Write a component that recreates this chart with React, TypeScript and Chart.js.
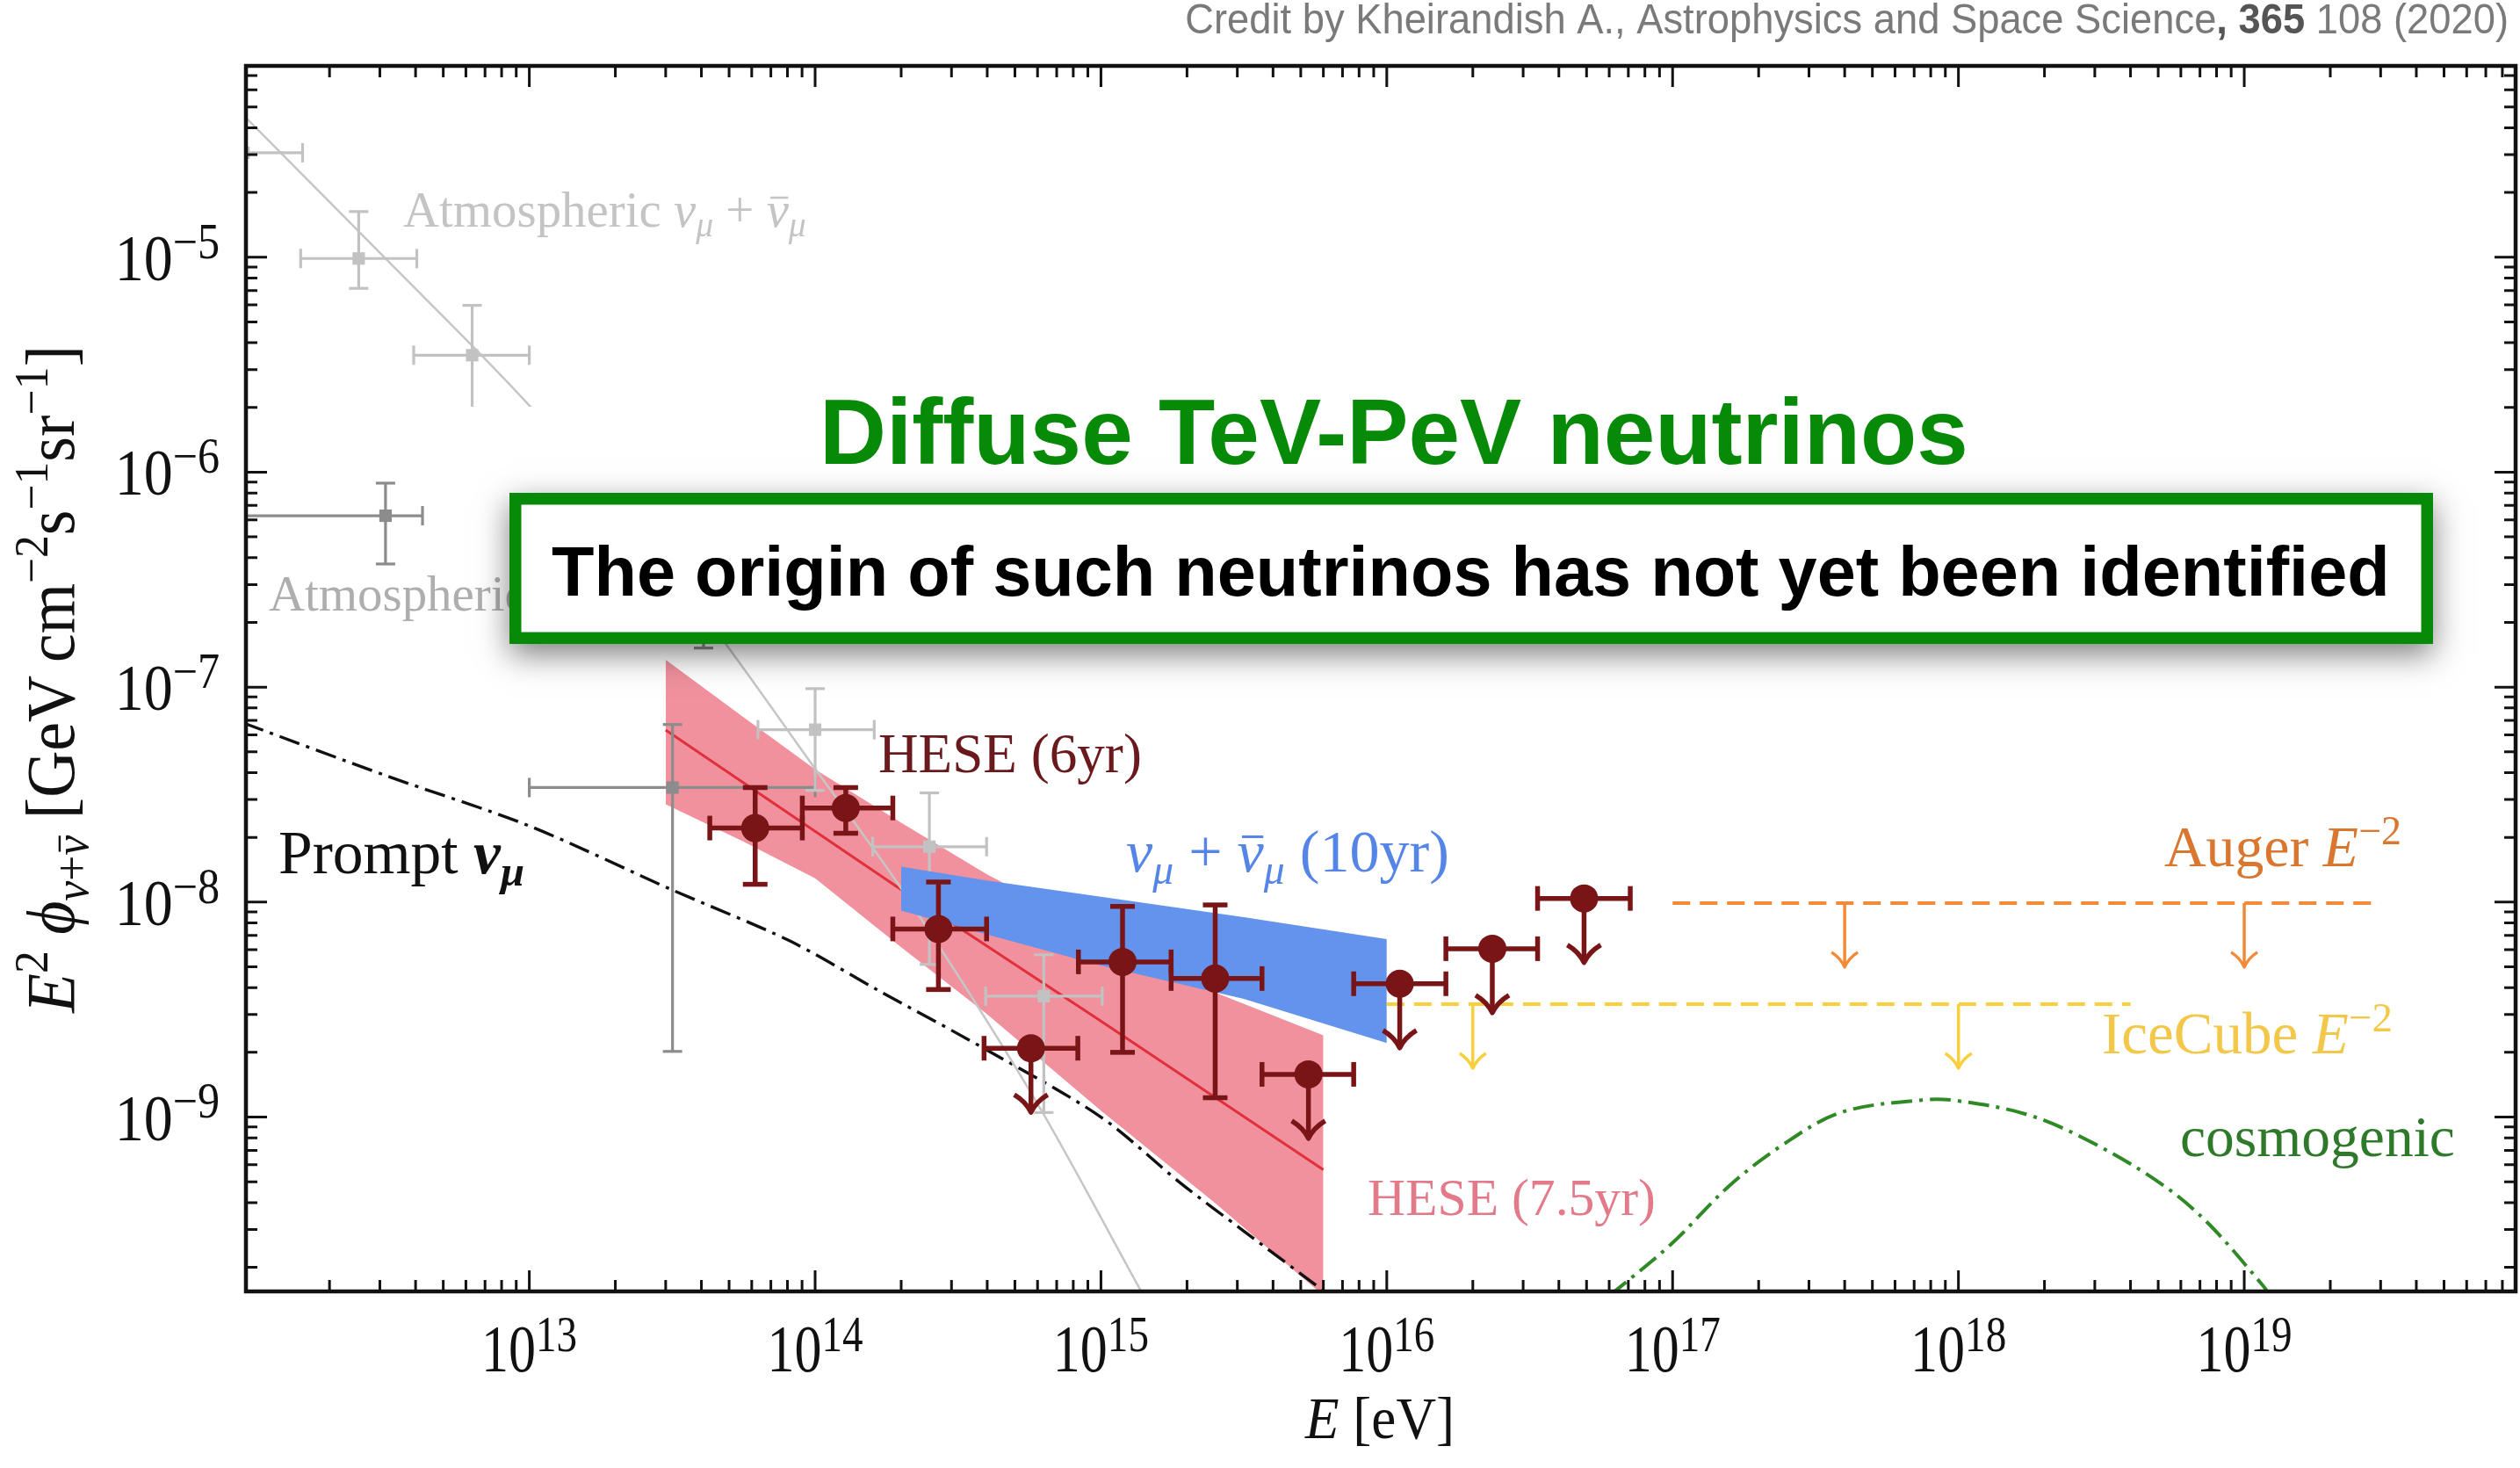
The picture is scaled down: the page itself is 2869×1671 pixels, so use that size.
import React, { useEffect, useRef } from "react";
import { Chart, registerables } from "chart.js";

Chart.register(...registerables);

const W = 2869;
const H = 1671;

// ---------------- axes ----------------
const X_MIN = 1.02e12;
const X_MAX = 8.9e19;
const Y_MIN = 1.545e-10;
const Y_MAX = 7.76e-5;
const X_TICK_EXP = [13, 14, 15, 16, 17, 18, 19];
const Y_TICK_EXP = [-5, -6, -7, -8, -9];

// ---------------- atmospheric nu_mu + nubar_mu (light gray) ----------------
const ATM_MU_LINE_E = [1e12, 3.16e12, 1e13, 3.16e13, 4.83e13, 1e14, 1.98e14, 5.85e14, 1.37e15, 1.58e15];
const ATM_MU_LINE_F = [4.57e-5, 9.77e-6, 2.04e-6, 3.31e-7, 1.61e-7, 4.17e-8, 1.18e-8, 1.22e-9, 1.58e-10, 1.12e-10];

const ATM_MU_E = [1.0e12, 2.53e12, 6.31e12, 1.0e14, 2.51e14, 6.31e14];
const ATM_MU_F = [3.06e-5, 9.86e-6, 3.5e-6, 6.34e-8, 1.81e-8, 3.65e-9];
const ATM_MU_ELO = [6.3e11, 1.585e12, 3.94e12, 6.31e13, 1.59e14, 3.95e14];
const ATM_MU_EHI = [1.61e12, 4.04e12, 1.0e13, 1.61e14, 3.98e14, 1.01e15];
const ATM_MU_FLO = [null, 7.16e-6, 1.98e-6, 3.31e-8, 5.13e-9, 1.05e-9];
const ATM_MU_FHI = [null, 1.63e-5, 5.97e-6, 9.84e-8, 3.22e-8, 5.69e-9];

// ---------------- atmospheric nu_e (dark gray) ----------------
const ATM_E_E = [3.14e12, 3.17e13, 4.07e13];
const ATM_E_F = [6.27e-7, 3.41e-8, 2.82e-7];
const ATM_E_ELO = [7.9e11, 1.0e13, 2.8e13];
const ATM_E_EHI = [4.23e12, 1.0e14, 5.9e13];
const ATM_E_FLO = [3.74e-7, 2.02e-9, 1.52e-7];
const ATM_E_FHI = [8.89e-7, 6.7e-8, 5.0e-7];

// ---------------- prompt nu_mu ----------------
const PROMPT_E = [1e12, 3.16e12, 1e13, 3.16e13, 8.13e13, 1.66e14, 3.89e14, 1e15, 1.91e15, 3.16e15, 6.31e15];
const PROMPT_F = [6.81e-8, 3.87e-8, 2.26e-8, 1.14e-8, 6.61e-9, 3.89e-9, 2.09e-9, 1.0e-9, 4.9e-10, 2.95e-10, 1.48e-10];

// ---------------- HESE 7.5yr band ----------------
const HESE75_E = [3.0e13, 5.62e13, 1e14, 2.0e14, 3.98e14, 1e15, 2.51e15, 6.0e15];
const HESE75_UP = [1.34e-7, 7.24e-8, 4.14e-8, 2.34e-8, 1.35e-8, 7.08e-9, 3.8e-9, 2.4e-9];
const HESE75_LO = [2.85e-8, 1.91e-8, 1.29e-8, 6.17e-9, 3.02e-9, 1.07e-9, 3.98e-10, 1.48e-10];
const HESE75_FIT_E = [3.0e13, 1.93e14, 9.73e14, 6.0e15];
const HESE75_FIT_F = [6.31e-8, 1.18e-8, 2.86e-9, 5.69e-10];

// ---------------- nu_mu 10yr band ----------------
const NUMU10_E = [2.0e14, 3.98e14, 1e15, 3.16e15, 1e16];
const NUMU10_UP = [1.46e-8, 1.26e-8, 1.06e-8, 8.51e-9, 6.73e-9];
const NUMU10_LO = [9.14e-9, 7.08e-9, 5.07e-9, 3.55e-9, 2.21e-9];

// ---------------- HESE 6yr points ----------------
const HESE6_E = [6.17e13, 1.28e14, 2.7e14, 5.69e14, 1.19e15, 2.51e15, 5.32e15, 1.11e16, 2.34e16, 4.9e16];
const HESE6_F = [2.21e-8, 2.74e-8, 7.5e-9, 2.09e-9, 5.27e-9, 4.41e-9, 1.58e-9, 4.17e-9, 6.07e-9, 1.04e-8];
const HESE6_ELO = [4.28e13, 9.02e13, 1.87e14, 3.9e14, 8.34e14, 1.76e15, 3.66e15, 7.66e15, 1.61e16, 3.37e16];
const HESE6_EHI = [9.02e13, 1.87e14, 3.98e14, 8.3e14, 1.76e15, 3.66e15, 7.66e15, 1.61e16, 3.37e16, 7.11e16];
const HESE6_FLO = [1.21e-8, 2.09e-8, 3.92e-9, null, 2.0e-9, 1.23e-9, null, null, null, null];
const HESE6_FHI = [3.41e-8, 3.41e-8, 1.24e-8, null, 9.55e-9, 9.7e-9, null, null, null, null];
const HESE6_UL = [false, false, false, true, false, false, true, true, true, true];

// ---------------- upper limits ----------------
const AUGER_E = [1e17, 3e19];
const AUGER_F = [9.9e-9, 9.9e-9];
const AUGER_ARROW_E = [4e17, 1e19];
const ICECUBE_E = [1e16, 4e18];
const ICECUBE_F = [3.35e-9, 3.35e-9];
const ICECUBE_ARROW_E = [2e16, 1e18];

// ---------------- cosmogenic ----------------
const COSMO_E = [6.03e16, 9.84e16, 1.58e17, 2.43e17, 3.88e17, 7.45e17, 9.93e17, 1.77e18, 3.04e18, 5.24e18, 7.52e18, 1.16e19, 1.23e19];
const COSMO_F = [1.48e-10, 2.55e-10, 4.79e-10, 7.43e-10, 1.05e-9, 1.2e-9, 1.19e-9, 1.02e-9, 7.43e-10, 4.79e-10, 3.18e-10, 1.65e-10, 1.48e-10];

// ---------------- styles ----------------
const SERIF = '"Liberation Serif", "DejaVu Serif", serif';
const SANS = '"Liberation Sans", Arial, Helvetica, sans-serif';
const GREEN = "#078a07";
const PINK = "#f0919d";
const RED_FIT = "#e0303c";
const BLUE = "#6393ec";
const DARKRED = "#7a1517";
const LIGHTGRAY = "#c2c2c2";
const DARKGRAY = "#8c8c8c";
const ORANGE = "#f28a38";
const YELLOW = "#f9cf3c";
const COSMO_GREEN = "#2f8a26";
const ARROW_LEN = 73;

const pts = (xs: number[], ys: number[]) => xs.map((x, i) => ({ x, y: ys[i] }));

type Run = { t: string; it?: boolean; sup?: boolean; sub?: boolean; bar?: boolean; bold?: boolean; color?: string };
type RunOpts = {
  size: number;
  family: string;
  color: string;
  align?: "left" | "center" | "right";
  width?: number;
  supScale?: number;
  supRaise?: number;
  subDrop?: number;
  sy?: number;
};

function runSize(r: Run, size: number, o: RunOpts) {
  return r.sup || r.sub ? size * (o.supScale ?? 0.7) : size;
}
function runFont(r: Run, size: number, o: RunOpts) {
  return `${r.it ? "italic " : ""}${r.bold ? "bold " : ""}${runSize(r, size, o)}px ${o.family}`;
}
function measureRuns(ctx: CanvasRenderingContext2D, runs: Run[], size: number, o: RunOpts) {
  let w = 0;
  for (const r of runs) {
    ctx.font = runFont(r, size, o);
    w += ctx.measureText(r.t).width;
  }
  return w;
}
function drawRuns(ctx: CanvasRenderingContext2D, runs: Run[], x: number, y: number, o: RunOpts) {
  let size = o.size;
  const sy = o.sy ?? 1;
  if (o.width) {
    const w0 = measureRuns(ctx, runs, size, o);
    size = (size * o.width) / w0;
  }
  const total = measureRuns(ctx, runs, size, o);
  const align = o.align ?? "left";
  let cx = align === "left" ? x : align === "center" ? x - total / 2 : x - total;
  ctx.textAlign = "left";
  ctx.textBaseline = "alphabetic";
  for (const r of runs) {
    ctx.font = runFont(r, size, o);
    const w = ctx.measureText(r.t).width;
    const dy = (r.sup ? -size * (o.supRaise ?? 0.38) : r.sub ? size * (o.subDrop ?? 0.2) : 0) * sy;
    const col = r.color ?? o.color;
    ctx.fillStyle = col;
    ctx.save();
    ctx.translate(cx, y + dy);
    ctx.scale(1, sy);
    ctx.fillText(r.t, 0, 0);
    if (r.bar) {
      const rs = runSize(r, size, o);
      ctx.strokeStyle = col;
      ctx.lineWidth = Math.max(1.5, rs * 0.045);
      ctx.beginPath();
      ctx.moveTo(w * 0.18, -rs * 0.58);
      ctx.lineTo(w * 0.98, -rs * 0.58);
      ctx.stroke();
    }
    ctx.restore();
    cx += w;
  }
  return size;
}

type ErrSet = {
  E: number[];
  F: number[];
  ELo: number[];
  EHi: number[];
  FLo: (number | null)[];
  FHi: (number | null)[];
  UL?: boolean[];
  color: string;
  lw: number;
  cap: number;
  headW?: number;
  headH?: number;
};

function drawArrow(ctx: CanvasRenderingContext2D, x: number, y: number, len: number, hw: number, hh: number) {
  ctx.beginPath();
  ctx.moveTo(x, y);
  ctx.lineTo(x, y + len);
  ctx.stroke();
  ctx.beginPath();
  ctx.moveTo(x - hw, y + len - hh);
  ctx.quadraticCurveTo(x - hw * 0.3, y + len - hh * 0.6, x, y + len);
  ctx.quadraticCurveTo(x + hw * 0.3, y + len - hh * 0.6, x + hw, y + len - hh);
  ctx.stroke();
}

function clipArea(ctx: CanvasRenderingContext2D, chart: any) {
  const a = chart.chartArea;
  ctx.beginPath();
  ctx.rect(a.left, a.top, a.right - a.left, a.bottom - a.top);
  ctx.clip();
}

function drawErr(ctx: CanvasRenderingContext2D, chart: any, s: ErrSet) {
  const xs = chart.scales.x;
  const ys = chart.scales.y;
  ctx.save();
  clipArea(ctx, chart);
  ctx.strokeStyle = s.color;
  ctx.lineWidth = s.lw;
  ctx.lineCap = "butt";
  const seg = (x0: number, y0: number, x1: number, y1: number) => {
    ctx.beginPath();
    ctx.moveTo(x0, y0);
    ctx.lineTo(x1, y1);
    ctx.stroke();
  };
  s.E.forEach((e, i) => {
    const x = xs.getPixelForValue(e);
    const y = ys.getPixelForValue(s.F[i]);
    const x0 = xs.getPixelForValue(s.ELo[i]);
    const x1 = xs.getPixelForValue(s.EHi[i]);
    seg(x0, y, x1, y);
    seg(x0, y - s.cap, x0, y + s.cap);
    seg(x1, y - s.cap, x1, y + s.cap);
    const lo = s.FLo[i];
    const hi = s.FHi[i];
    if (lo != null && hi != null) {
      const y0 = ys.getPixelForValue(hi);
      const y1 = ys.getPixelForValue(lo);
      seg(x, y0, x, y1);
      seg(x - s.cap, y0, x + s.cap, y0);
      seg(x - s.cap, y1, x + s.cap, y1);
    }
    if (s.UL && s.UL[i]) {
      ctx.lineJoin = "round";
      drawArrow(ctx, x, y, ARROW_LEN, s.headW ?? 18, s.headH ?? 20);
    }
  });
  ctx.restore();
}

const ERR_SETS: Record<string, ErrSet> = {
  atmMu: {
    E: ATM_MU_E, F: ATM_MU_F, ELo: ATM_MU_ELO, EHi: ATM_MU_EHI, FLo: ATM_MU_FLO, FHi: ATM_MU_FHI,
    color: LIGHTGRAY, lw: 3.2, cap: 11,
  },
  atmE: {
    E: ATM_E_E, F: ATM_E_F, ELo: ATM_E_ELO, EHi: ATM_E_EHI, FLo: ATM_E_FLO, FHi: ATM_E_FHI,
    color: DARKGRAY, lw: 3.2, cap: 11,
  },
  hese6: {
    E: HESE6_E, F: HESE6_F, ELo: HESE6_ELO, EHi: HESE6_EHI, FLo: HESE6_FLO, FHi: HESE6_FHI, UL: HESE6_UL,
    color: DARKRED, lw: 5.5, cap: 14, headW: 19, headH: 20,
  },
};

const DASHDOT = [24, 8, 4, 8];

const decor = {
  id: "neutrinoDecor",
  beforeDraw(chart: any) {
    const ctx = chart.ctx;
    ctx.save();
    ctx.fillStyle = "#ffffff";
    ctx.fillRect(0, 0, chart.width, chart.height);
    ctx.restore();
  },
  afterDatasetDraw(chart: any, args: any) {
    const ds = chart.data.datasets[args.index];
    const ctx = chart.ctx;
    if (ds.errKey) drawErr(ctx, chart, ERR_SETS[ds.errKey]);
    if (ds.arrowE) {
      const xs = chart.scales.x;
      const ys = chart.scales.y;
      ctx.save();
      clipArea(ctx, chart);
      ctx.strokeStyle = ds.borderColor;
      ctx.lineWidth = 3.5;
      ctx.lineJoin = "round";
      ds.arrowE.forEach((e: number) => {
        drawArrow(ctx, xs.getPixelForValue(e), ys.getPixelForValue(ds.data[0].y), ARROW_LEN, 15, 17);
      });
      ctx.restore();
    }
  },
  afterDatasetsDraw(chart: any) {
    const ctx: CanvasRenderingContext2D = chart.ctx;
    const a = chart.chartArea;
    const xs = chart.scales.x;
    const ys = chart.scales.y;
    ctx.save();
    // ticks
    ctx.strokeStyle = "#111";
    ctx.lineWidth = 3;
    for (let e = 11; e <= 20; e++) {
      for (let k = 1; k <= 9; k++) {
        const v = k * Math.pow(10, e);
        if (v < X_MIN || v > X_MAX) continue;
        const x = xs.getPixelForValue(v);
        const len = k === 1 ? 24 : 13;
        ctx.beginPath();
        ctx.moveTo(x, a.bottom);
        ctx.lineTo(x, a.bottom - len);
        ctx.moveTo(x, a.top);
        ctx.lineTo(x, a.top + len);
        ctx.stroke();
      }
    }
    for (let e = -11; e <= -4; e++) {
      for (let k = 1; k <= 9; k++) {
        const v = k * Math.pow(10, e);
        if (v < Y_MIN || v > Y_MAX) continue;
        const y = ys.getPixelForValue(v);
        const len = k === 1 ? 24 : 13;
        ctx.beginPath();
        ctx.moveTo(a.left, y);
        ctx.lineTo(a.left + len, y);
        ctx.moveTo(a.right, y);
        ctx.lineTo(a.right - len, y);
        ctx.stroke();
      }
    }
    // frame
    ctx.lineWidth = 4.5;
    ctx.strokeRect(a.left, a.top, a.right - a.left, a.bottom - a.top);

    // tick labels
    X_TICK_EXP.forEach((e) => {
      const x = xs.getPixelForValue(Math.pow(10, e));
      drawRuns(ctx, [{ t: "10" }, { t: String(e), sup: true }], x, a.bottom + 91, {
        size: 62, family: SERIF, color: "#111", supScale: 0.76, supRaise: 0.3, align: "center", sy: 1.22,
      });
    });
    Y_TICK_EXP.forEach((e) => {
      const y = ys.getPixelForValue(Math.pow(10, e));
      drawRuns(ctx, [{ t: "10" }, { t: "\u2212" + String(-e), sup: true }], 250, y + 26, {
        size: 66, family: SERIF, color: "#111", supScale: 0.76, supRaise: 0.34, align: "right", sy: 1.12,
      });
    });

    // axis titles
    drawRuns(ctx, [{ t: "E", it: true }, { t: " [eV]" }], 1571, 1637, {
      size: 64, family: SERIF, color: "#111", align: "center", width: 170, sy: 1.08,
    });
    ctx.save();
    ctx.translate(84, 773);
    ctx.rotate(-Math.PI / 2);
    drawRuns(
      ctx,
      [
        { t: "E", it: true },
        { t: "2", sup: true },
        { t: " " },
        { t: "\u03d5", it: true },
        { t: "\u03bd", it: true, sub: true },
        { t: "+", sub: true },
        { t: "\u03bd", it: true, sub: true, bar: true },
        { t: " [GeV\u2009cm" },
        { t: "\u22122", sup: true },
        { t: "s" },
        { t: "\u22121", sup: true },
        { t: "sr" },
        { t: "\u22121", sup: true },
        { t: "]" },
      ],
      0,
      0,
      { size: 64, family: SERIF, color: "#111", align: "center", width: 760, sy: 1.06 }
    );
    ctx.restore();

    // curve labels
    const lab = (runs: Run[], x: number, y: number, w: number, color: string) =>
      drawRuns(ctx, runs, x, y, { size: 56, family: SERIF, color, width: w });
    const atmSize = lab(
      [
        { t: "Atmospheric " },
        { t: "\u03bd", it: true },
        { t: "\u03bc", it: true, sub: true },
        { t: " + " },
        { t: "\u03bd", it: true, bar: true },
        { t: "\u03bc", it: true, sub: true },
      ],
      459, 258, 459, "#c4c4c4"
    );
    drawRuns(ctx, [{ t: "Atmospheric " }, { t: "\u03bd", it: true }, { t: "e", it: true, sub: true }], 306, 695, {
      size: atmSize, family: SERIF, color: "#aeaeae",
    });
    lab([{ t: "Prompt " }, { t: "\u03bd", it: true, bold: true }, { t: "\u03bc", it: true, bold: true, sub: true }], 317, 994, 280, "#111");
    lab([{ t: "HESE (6yr)" }], 1000, 879, 300, "#6a1a1c");
    lab(
      [
        { t: "\u03bd", it: true },
        { t: "\u03bc", it: true, sub: true },
        { t: " + " },
        { t: "\u03bd", it: true, bar: true },
        { t: "\u03bc", it: true, sub: true },
        { t: " (10yr)" },
      ],
      1282, 992, 368, "#5585e6"
    );
    lab([{ t: "HESE (7.5yr)" }], 1557, 1383, 328, "#e27a8a");
    lab([{ t: "Auger " }, { t: "E", it: true }, { t: "\u22122", sup: true }], 2464, 986, 270, "#d9772f");
    lab([{ t: "IceCube " }, { t: "E", it: true }, { t: "\u22122", sup: true }], 2393, 1199, 331, "#f3c84a");
    lab([{ t: "cosmogenic" }], 2482, 1316, 313, "#2f7a2a");
    ctx.restore();
  },
  afterDraw(chart: any) {
    const ctx: CanvasRenderingContext2D = chart.ctx;
    ctx.save();
    // white backing behind the slide title
    ctx.fillStyle = "#ffffff";
    ctx.fillRect(505, 463, 2770 - 505, 561 - 463);

    // title
    drawRuns(ctx, [{ t: "Diffuse TeV-PeV neutrinos", bold: true }], 933, 528, {
      size: 104, family: SANS, color: GREEN, width: 1308,
    });

    // box with shadow
    const bx = 580, by = 561, bw = 2770 - 580, bh = 733 - 561, bt = 13.5;
    ctx.save();
    ctx.shadowColor = "rgba(0,0,0,0.5)";
    ctx.shadowBlur = 34;
    ctx.shadowOffsetX = 0;
    ctx.shadowOffsetY = 12;
    ctx.fillStyle = GREEN;
    ctx.fillRect(bx, by, bw, bh);
    ctx.restore();
    ctx.fillStyle = "#ffffff";
    ctx.fillRect(bx + bt, by + bt, bw - 2 * bt, bh - 2 * bt);
    drawRuns(ctx, [{ t: "The origin of such neutrinos has not yet been identified", bold: true }], 628, 678, {
      size: 76, family: SANS, color: "#000", width: 2093,
    });

    // credit
    drawRuns(
      ctx,
      [
        { t: "Credit by Kheirandish A., Astrophysics and Space Science" },
        { t: ", 365", bold: true, color: "#555" },
        { t: " 108 (2020)" },
      ],
      2856, 38,
      { size: 38, family: SANS, color: "#7a7a7a", align: "right", width: 1507, sy: 1.08 }
    );
    ctx.restore();
  },
};

function buildDatasets(): any[] {
  return [
    {
      label: "HESE 7.5yr band upper",
      data: pts(HESE75_E, HESE75_UP),
      fill: "+1",
      backgroundColor: PINK,
      borderColor: "transparent",
      borderWidth: 0,
      pointRadius: 0,
      order: 100,
    },
    {
      label: "HESE 7.5yr band lower",
      data: pts(HESE75_E, HESE75_LO),
      fill: false,
      borderColor: "transparent",
      borderWidth: 0,
      pointRadius: 0,
      order: 99,
    },
    {
      label: "HESE 7.5yr best fit",
      data: pts(HESE75_FIT_E, HESE75_FIT_F),
      borderColor: RED_FIT,
      borderWidth: 3,
      pointRadius: 0,
      fill: false,
      order: 95,
    },
    {
      label: "Prompt nu_mu",
      data: pts(PROMPT_E, PROMPT_F),
      borderColor: "#111",
      borderWidth: 3.4,
      borderDash: DASHDOT,
      pointRadius: 0,
      tension: 0.3,
      fill: false,
      order: 90,
    },
    {
      label: "Atmospheric nu_mu model",
      data: pts(ATM_MU_LINE_E, ATM_MU_LINE_F),
      borderColor: "#c6c6c6",
      borderWidth: 2.5,
      pointRadius: 0,
      tension: 0.3,
      fill: false,
      order: 85,
    },
    {
      label: "Atmospheric nu_e data",
      data: pts(ATM_E_E, ATM_E_F),
      showLine: false,
      pointStyle: "rect",
      pointRadius: 10,
      pointBackgroundColor: DARKGRAY,
      pointBorderWidth: 0,
      errKey: "atmE",
      order: 81,
    },
    {
      label: "Atmospheric nu_mu data",
      data: pts(ATM_MU_E, ATM_MU_F),
      showLine: false,
      pointStyle: "rect",
      pointRadius: 10,
      pointBackgroundColor: LIGHTGRAY,
      pointBorderWidth: 0,
      errKey: "atmMu",
      order: 80,
    },
    {
      label: "nu_mu 10yr band upper",
      data: pts(NUMU10_E, NUMU10_UP),
      fill: "+1",
      backgroundColor: BLUE,
      borderColor: "transparent",
      borderWidth: 0,
      pointRadius: 0,
      order: 60,
    },
    {
      label: "nu_mu 10yr band lower",
      data: pts(NUMU10_E, NUMU10_LO),
      fill: false,
      borderColor: "transparent",
      borderWidth: 0,
      pointRadius: 0,
      order: 59,
    },
    {
      label: "Auger E^-2",
      data: pts(AUGER_E, AUGER_F),
      borderColor: ORANGE,
      borderWidth: 4,
      borderDash: [20, 11],
      pointRadius: 0,
      fill: false,
      arrowE: AUGER_ARROW_E,
      order: 40,
    },
    {
      label: "IceCube E^-2",
      data: pts(ICECUBE_E, ICECUBE_F),
      borderColor: YELLOW,
      borderWidth: 4,
      borderDash: [20, 11],
      pointRadius: 0,
      fill: false,
      arrowE: ICECUBE_ARROW_E,
      order: 39,
    },
    {
      label: "cosmogenic",
      data: pts(COSMO_E, COSMO_F),
      borderColor: COSMO_GREEN,
      borderWidth: 4,
      borderDash: DASHDOT,
      pointRadius: 0,
      tension: 0.35,
      fill: false,
      order: 38,
    },
    {
      label: "HESE 6yr",
      data: pts(HESE6_E, HESE6_F),
      showLine: false,
      pointStyle: "circle",
      pointRadius: 16,
      pointBackgroundColor: DARKRED,
      pointBorderWidth: 0,
      errKey: "hese6",
      order: 1,
    },
  ];
}

export default function App() {
  const ref = useRef<HTMLCanvasElement | null>(null);
  useEffect(() => {
    if (!ref.current) return;
    const chart = new Chart(ref.current, {
      type: "line",
      data: { datasets: buildDatasets() },
      options: {
        responsive: false,
        maintainAspectRatio: false,
        animation: false,
        devicePixelRatio: 1,
        events: [],
        clip: 0,
        layout: {
          autoPadding: false,
          padding: { left: 280, right: W - 2864, top: 75, bottom: H - 1470 },
        },
        plugins: {
          legend: { display: false },
          tooltip: { enabled: false },
          title: { display: false },
        },
        scales: {
          x: { type: "logarithmic", min: X_MIN, max: X_MAX, display: false },
          y: { type: "logarithmic", min: Y_MIN, max: Y_MAX, display: false },
        },
      } as any,
      plugins: [decor as any],
    });
    return () => chart.destroy();
  }, []);
  return (
    <canvas
      ref={ref}
      width={W}
      height={H}
      style={{ position: "fixed", left: 0, top: 0, width: W, height: H, display: "block" }}
    />
  );
}
